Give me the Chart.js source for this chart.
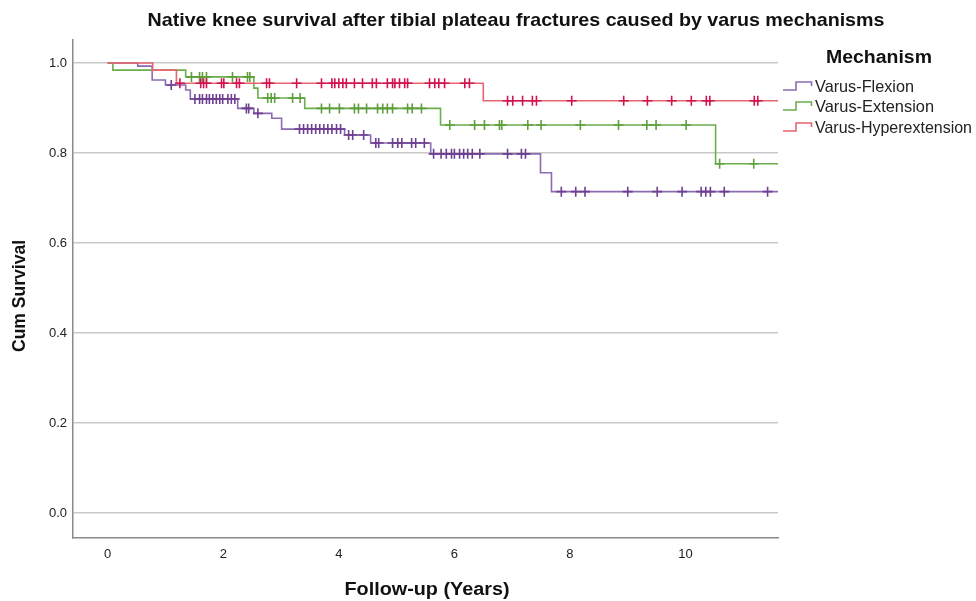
<!DOCTYPE html>
<html><head><meta charset="utf-8">
<script src="https://cdn.jsdelivr.net/npm/chart.js@4/dist/chart.umd.min.js"></script>
<style>html,body{margin:0;padding:0;background:#fff}#wrap{width:976px;height:601px;position:relative}</style>
</head><body><div id="wrap"><canvas id="c" width="976" height="601"></canvas></div>
<script>
const titleText = "Native knee survival after tibial plateau fractures caused by varus mechanisms";
const xAxisTitle = "Follow-up (Years)";
const yAxisTitle = "Cum Survival";
const legendTitle = "Mechanism";
const seriesNames = ["Varus-Flexion", "Varus-Extension", "Varus-Hyperextension"];
const xTickValues = [0, 2, 4, 6, 8, 10];
const yTickValues = [0.0, 0.2, 0.4, 0.6, 0.8, 1.0];
const followUpEnd = 11.6;

// Varus-Flexion
const flexionEventTimes = [0.52, 0.77, 1.00, 1.35, 1.43, 2.25, 2.53, 2.84, 3.01, 4.10, 4.55, 5.59, 7.49, 7.68];
const flexionSurvival   = [0.993, 0.962, 0.951, 0.940, 0.920, 0.899, 0.888, 0.877, 0.853, 0.840, 0.822, 0.798, 0.756, 0.714];
const flexionCensored   = [1.10, 1.51, 1.59, 1.64, 1.71, 1.76, 1.82, 1.88, 1.94, 1.99, 2.08, 2.14, 2.20, 2.40, 2.44, 2.60,
  3.32, 3.39, 3.46, 3.53, 3.60, 3.67, 3.74, 3.81, 3.88, 3.96, 4.03, 4.17, 4.24, 4.43,
  4.64, 4.69, 4.93, 5.02, 5.09, 5.26, 5.33, 5.48, 5.64, 5.77, 5.86, 5.95, 6.00, 6.09, 6.16, 6.23, 6.31, 6.44,
  6.92, 7.16, 7.23, 7.85, 8.10, 8.26, 9.00, 9.51, 9.94, 10.27, 10.35, 10.43, 10.67, 11.42];

// Varus-Extension
const extensionEventTimes = [0.09, 1.35, 2.53, 2.60, 3.41, 5.76, 10.52];
const extensionSurvival   = [0.984, 0.969, 0.944, 0.922, 0.899, 0.862, 0.776];
const extensionCensored   = [1.45, 1.59, 1.64, 1.71, 2.16, 2.42, 2.46, 2.77, 2.83, 2.89, 3.20, 3.33,
  3.70, 3.84, 4.01, 4.27, 4.34, 4.48, 4.67, 4.76, 4.84, 4.93, 5.19, 5.27, 5.43,
  5.92, 6.35, 6.52, 6.78, 6.82, 7.27, 7.50, 8.18, 8.84, 9.33, 9.49, 10.01, 10.59, 11.18];

// Varus-Hyperextension
const hyperextensionEventTimes = [0.78, 1.19, 6.50];
const hyperextensionSurvival   = [0.984, 0.955, 0.916];
const hyperextensionCensored   = [1.25, 1.61, 1.66, 1.71, 1.97, 2.01, 2.23, 2.28, 2.75, 2.80, 3.27,
  3.70, 3.88, 3.93, 4.00, 4.07, 4.13, 4.27, 4.41, 4.58, 4.65, 4.84, 4.93, 4.97, 5.05, 5.14, 5.19,
  5.57, 5.66, 5.73, 5.83, 6.18, 6.26, 6.92, 7.01, 7.18, 7.35, 7.42, 8.03, 8.93, 9.34, 9.76, 10.10, 10.36, 10.42, 11.19, 11.25];

const lineColors = ["#8c6bb1", "#6cad4c", "#e8646e"];
const markColors = ["#6e3f92", "#5e9f3c", "#d3124f"];

function stepPoints(times, surv) {
  const pts = [{x: 0, y: 1}];
  times.forEach((t, i) => pts.push({x: t, y: surv[i]}));
  pts.push({x: followUpEnd, y: surv[surv.length - 1]});
  return pts;
}
function survAt(times, surv, t) {
  let s = 1;
  for (let i = 0; i < times.length; i++) if (times[i] <= t) s = surv[i];
  return s;
}
function censorPoints(times, surv, cens) {
  return cens.map(t => ({x: t, y: survAt(times, surv, t)}));
}

const groups = [
  [flexionEventTimes, flexionSurvival, flexionCensored],
  [extensionEventTimes, extensionSurvival, extensionCensored],
  [hyperextensionEventTimes, hyperextensionSurvival, hyperextensionCensored]
];

const datasets = [];
groups.forEach((g, i) => {
  datasets.push({
    label: seriesNames[i] + " censored",
    data: censorPoints(g[0], g[1], g[2]),
    showLine: false,
    pointStyle: 'cross',
    pointRadius: 5,
    pointBorderWidth: 1.6,
    pointBorderColor: markColors[i],
    borderColor: markColors[i],
    pointHoverRadius: 5,
    order: 3 - i
  });
  datasets.push({
    label: seriesNames[i],
    data: stepPoints(g[0], g[1]),
    stepped: true,
    borderColor: lineColors[i],
    borderWidth: 1.6,
    pointRadius: 0,
    fill: false,
    order: 3 - i + 0.5
  });
});

const FONT = "'Liberation Sans', Arial, sans-serif";

function drawFit(ctx, text, x, cy, targetW, font, color, rot, align) {
  ctx.save();
  ctx.font = font;
  ctx.fillStyle = color;
  ctx.textAlign = align || 'center';
  ctx.textBaseline = 'middle';
  const w = ctx.measureText(text).width;
  ctx.translate(x, cy);
  if (rot) ctx.rotate(rot);
  ctx.scale(targetW / w, 1);
  ctx.fillText(text, 0, 0);
  ctx.restore();
}

const textPlugin = {
  id: 'texts',
  afterDraw(chart) {
    const ctx = chart.ctx;
    drawFit(ctx, titleText, 516, 21, 737, "bold 19px " + FONT, "#111");
    drawFit(ctx, xAxisTitle, 427, 590, 165, "bold 18px " + FONT, "#111");
    drawFit(ctx, yAxisTitle, 20, 296, 112, "bold 18px " + FONT, "#111", -Math.PI / 2);
    drawFit(ctx, legendTitle, 879, 58, 106, "bold 18px " + FONT, "#111");
    const itemY = [87, 107, 128];
    const itemW = [99, 119, 157];
    seriesNames.forEach((n, i) => {
      const y = itemY[i];
      ctx.save();
      ctx.strokeStyle = lineColors[i];
      ctx.lineWidth = 1.6;
      ctx.beginPath();
      ctx.moveTo(783, y + 3);
      ctx.lineTo(796, y + 3);
      ctx.lineTo(796, y - 5);
      ctx.lineTo(811.5, y - 5);
      ctx.lineTo(811.5, y - 1);
      ctx.stroke();
      ctx.restore();
      drawFit(ctx, n, 815, y, itemW[i], "16.5px " + FONT, "#222", 0, 'left');
    });
  }
};

new Chart(document.getElementById('c'), {
  type: 'line',
  data: {datasets},
  plugins: [textPlugin],
  options: {
    responsive: false,
    animation: false,
    devicePixelRatio: 1,
    layout: {padding: {top: 40, right: 198, left: 0, bottom: 0}},
    plugins: {legend: {display: false}, title: {display: false}, tooltip: {enabled: false}},
    scales: {
      x: {
        type: 'linear',
        min: -0.6,
        max: 11.6,
        afterBuildTicks: s => { s.ticks = xTickValues.map(v => ({value: v})); },
        afterFit: s => { s.height = 63; },
        grid: {display: false, drawTicks: false},
        border: {display: true, color: '#8a8a8a', width: 1.5},
        ticks: {padding: 9, color: '#222', font: {family: FONT, size: 13}, maxRotation: 0,
          callback: v => String(v)}
      },
      y: {
        type: 'linear',
        min: -0.0556,
        max: 1.051,
        afterBuildTicks: s => { s.ticks = yTickValues.map(v => ({value: v})); },
        afterFit: s => { s.width = 73; },
        grid: {display: true, color: '#c9c9c9', lineWidth: 1.5, drawTicks: false},
        border: {display: true, color: '#8a8a8a', width: 1.5},
        ticks: {padding: 6, color: '#222', font: {family: FONT, size: 13},
          callback: v => v.toFixed(1)}
      }
    }
  }
});
</script></body></html>
